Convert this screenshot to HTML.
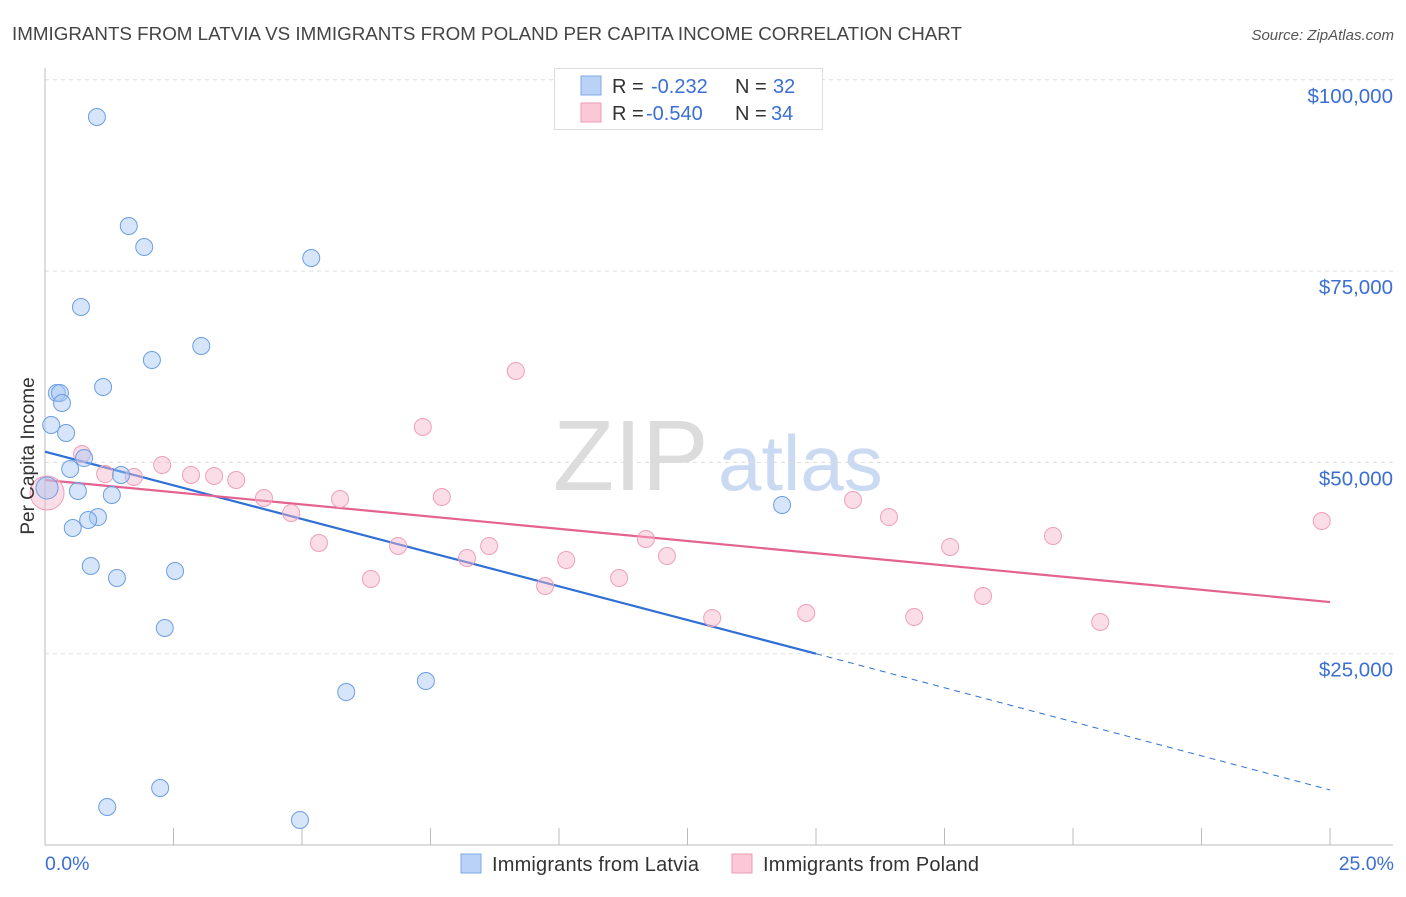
<!DOCTYPE html>
<html><head><meta charset="utf-8"><style>
body{margin:0;background:#fff;font-family:"Liberation Sans",sans-serif;}
svg text{font-family:"Liberation Sans",sans-serif;}
</style></head><body>
<svg id="chart" width="1406" height="892" xmlns="http://www.w3.org/2000/svg">
<text x="12" y="40" font-size="18.5" fill="#444" textLength="950" lengthAdjust="spacingAndGlyphs">IMMIGRANTS FROM LATVIA VS IMMIGRANTS FROM POLAND PER CAPITA INCOME CORRELATION CHART</text>
<text x="1394" y="40" font-size="15" fill="#555" font-style="italic" text-anchor="end">Source: ZipAtlas.com</text>
<g>
<text x="553" y="490" font-size="100" fill="#dcdcdc" font-family="Liberation Serif">ZIP</text>
<text x="718" y="490" font-size="78" fill="#c9daf2">atlas</text>
</g>
<g id="grid"></g><g id="axes"></g><g id="lines"></g><g id="pts"></g>
<text transform="translate(34,456) rotate(-90)" font-size="19" fill="#333" text-anchor="middle">Per Capita Income</text>
<text x="45" y="870" font-size="19.5" fill="#3b6fd4">0.0%</text>
<text x="1394" y="870" font-size="19.5" fill="#3b6fd4" text-anchor="end">25.0%</text>
<g>
<rect x="554.5" y="68.5" width="268" height="61" fill="#fff" stroke="#ddd"/>
<rect x="581" y="76" width="20" height="19" fill="#b9d2f5" stroke="#7ea8e6"/>
<rect x="581" y="103" width="20" height="19" fill="#fac8d7" stroke="#ef9bb6"/>
<text x="612" y="93" font-size="20" fill="#333">R = <tspan fill="#3b6fd4" x="651">-0.232</tspan><tspan x="735">N = </tspan><tspan fill="#3b6fd4" x="773">32</tspan></text>
<text x="612" y="120" font-size="20" fill="#333">R = <tspan fill="#3b6fd4" x="646">-0.540</tspan><tspan x="735">N = </tspan><tspan fill="#3b6fd4" x="771">34</tspan></text>
</g>
<g>
<rect x="461" y="854" width="20" height="19" fill="#b9d2f5" stroke="#7ea8e6"/>
<text x="492" y="871" font-size="20" fill="#333" textLength="207">Immigrants from Latvia</text>
<rect x="732" y="854" width="20" height="19" fill="#fac8d7" stroke="#ef9bb6"/>
<text x="763" y="871" font-size="20" fill="#333" textLength="216">Immigrants from Poland</text>
</g>
</svg>
<script>
const yTicks=[25000,50000,75000,100000];
const yTickLabels=["$25,000","$50,000","$75,000","$100,000"];
const latviaX=[1.01,1.63,1.93,5.18,0.70,3.04,2.08,1.13,0.23,0.29,0.33,0.12,0.41,0.76,0.49,1.48,0.64,1.30,0.04,1.03,0.84,0.54,0.89,1.40,2.53,2.33,5.86,7.41,14.34,1.21,2.24,4.96];
const latviaY=[95140,80890,78150,76710,70310,65210,63380,59850,59070,59070,57760,54890,53840,50570,49140,48350,46260,45740,46650,42860,42470,41430,36460,34890,35810,28360,19990,21430,44430,4970,7450,3270];
const polandX=[0.04,0.72,1.17,1.73,2.28,2.84,3.29,3.72,4.26,4.79,5.33,5.74,6.34,6.87,7.35,7.72,8.21,8.64,9.16,9.73,10.14,11.17,11.69,12.10,12.98,14.81,15.72,16.42,16.91,17.61,18.25,19.61,20.53,24.84];
const polandY=[46000,51100,48480,48090,49660,48350,48220,47700,45350,43390,39470,45220,34760,39080,54630,45480,37510,39080,61950,33850,37250,34890,39990,37770,29670,30320,45090,42860,29800,38950,32540,40380,29140,42340];
const latviaTrend=[51400,25000];
const latviaTrendEnd=7200;
const polandTrend=[47700,31750];
const NS="http://www.w3.org/2000/svg";
const X=v=>45+v*51.4;
const Y=v=>845-v*191.3/25000;
function mk(parent,tag,attrs){const e=document.createElementNS(NS,tag);for(const k in attrs)e.setAttribute(k,attrs[k]);document.getElementById(parent).appendChild(e);return e;}
yTicks.forEach((t,i)=>{
 const l=mk('grid','line',{x1:45,x2:1393,y1:Y(t),y2:Y(t),stroke:'#ddd','stroke-dasharray':'4,4'});
 
 
 const tx=mk('grid','text',{x:1393,y:Y(t)+23,'font-size':20.5,fill:'#3b6fd4','text-anchor':'end'});
 tx.textContent=yTickLabels[i];
 
 
});
const ya=mk('axes','line',{x1:45,x2:45,y1:68,y2:845,stroke:'#bbb'});


const xa=mk('axes','line',{x1:45,x2:1393,y1:845,y2:845,stroke:'#bbb'});


for(let i=0;i<=10;i++){
 const t=mk('axes','line',{x1:X(i*2.5),x2:X(i*2.5),y1:828,y2:845,stroke:'#bbb'});
 
 
}
const bl=mk('lines','line',{x1:X(0),y1:Y(latviaTrend[0]),x2:X(15),y2:Y(latviaTrend[1]),stroke:'#2f6fd6','stroke-width':2.2});


const bd=mk('lines','line',{x1:X(15),y1:Y(latviaTrend[1]),x2:X(25),y2:Y(latviaTrendEnd),stroke:'#2f6fd6','stroke-width':1,'stroke-dasharray':'6,5'});


const pl=mk('lines','line',{x1:X(0),y1:Y(polandTrend[0]),x2:X(25),y2:Y(polandTrend[1]),stroke:'#e4628f','stroke-width':2.2});


polandX.forEach((x,i)=>{
 const c=mk('pts','circle',{cx:X(x),cy:Y(polandY[i]),r:i===0?17:8.5,fill:'rgba(246,180,202,0.45)',stroke:'#efa0b9','stroke-width':1});
 
 
});
latviaX.forEach((x,i)=>{
 const c=mk('pts','circle',{cx:X(x),cy:Y(latviaY[i]),r:i===18?11:8.5,fill:'rgba(165,198,242,0.45)',stroke:'#6c9fe2','stroke-width':1});
 
 
});
</script>
</body></html>
